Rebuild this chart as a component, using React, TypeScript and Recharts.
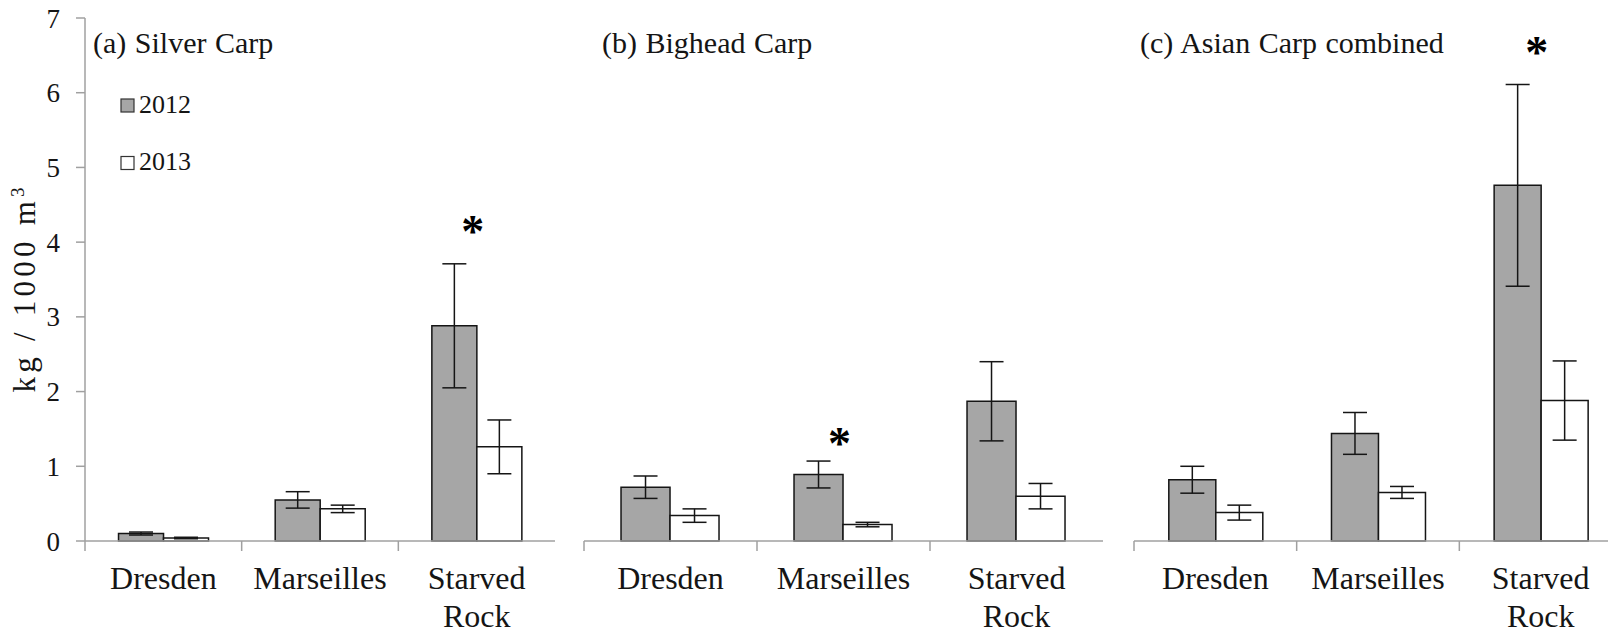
import React from 'react'
import { BarChart, Bar, XAxis, YAxis, ErrorBar, ReferenceDot, Legend } from 'recharts'

// ---- data (kg / 1000 m3) ----
const sites = ['Dresden', 'Marseilles', 'Starved Rock']
const years = ['2012', '2013']
const yTicks = [0, 1, 2, 3, 4, 5, 6, 7]

const silver2012 = [0.1, 0.55, 2.88]
const silver2012Err = [0.02, 0.11, 0.83]
const silver2013 = [0.04, 0.43, 1.26]
const silver2013Err = [0.01, 0.05, 0.36]
const silverStars = [{ site: 'Starved Rock', value: 4.22 }]

const bighead2012 = [0.72, 0.89, 1.87]
const bighead2012Err = [0.15, 0.18, 0.53]
const bighead2013 = [0.34, 0.22, 0.6]
const bighead2013Err = [0.09, 0.03, 0.17]
const bigheadStars = [{ site: 'Marseilles', value: 1.38 }]

const combined2012 = [0.82, 1.44, 4.76]
const combined2012Err = [0.18, 0.28, 1.35]
const combined2013 = [0.38, 0.65, 1.88]
const combined2013Err = [0.1, 0.08, 0.53]
const combinedStars = [{ site: 'Starved Rock', value: 6.61 }]

const FONT = 'Liberation Serif, Times New Roman, DejaVu Serif, serif'
const AXIS = '#a0a0a0'
const INK = '#151515'
const FILL_2012 = '#a6a6a6'
const FILL_2013 = '#ffffff'
const H = 633
const TOP = 18
const XAXIS_H = 92
const Y_W = 85

type Panel = {
  title: string
  titleX: number
  plotLeft: number
  plotWidth: number
  v2012: number[]
  e2012: number[]
  v2013: number[]
  e2013: number[]
  stars: { site: string; value: number }[]
  main?: boolean
}

const panels: Panel[] = [
  {
    title: '(a) Silver Carp', titleX: 93, plotLeft: 85, plotWidth: 470,
    v2012: silver2012, e2012: silver2012Err, v2013: silver2013, e2013: silver2013Err,
    stars: silverStars, main: true,
  },
  {
    title: '(b) Bighead Carp', titleX: 602, plotLeft: 583.5, plotWidth: 519,
    v2012: bighead2012, e2012: bighead2012Err, v2013: bighead2013, e2013: bighead2013Err,
    stars: bigheadStars,
  },
  {
    title: '(c) Asian Carp combined', titleX: 1140, plotLeft: 1133.5, plotWidth: 488,
    v2012: combined2012, e2012: combined2012Err, v2013: combined2013, e2013: combined2013Err,
    stars: combinedStars,
  },
]

// category label + boundary tick on the left edge of each band
const SiteTick = (props: any) => {
  const { x, y, payload, band } = props
  const words = String(payload.value).split(' ')
  const bx = x - band / 2
  return (
    <g>
      <line x1={bx} x2={bx} y1={y} y2={y + 10} stroke={AXIS} strokeWidth={1.5} />
      {words.map((w, i) => (
        <text key={w} x={x} y={y + 48 + i * 38} textAnchor="middle"
          style={{ fontFamily: FONT, fontSize: 32 }} fill={INK}>
          {w}
        </text>
      ))}
    </g>
  )
}

const Star = (props: any) => (
  <text x={props.cx - 4} y={props.cy + 21} textAnchor="middle"
    style={{ fontFamily: FONT, fontWeight: 'bold', fontSize: 46 }} fill="#000">*</text>
)

const YearLegend = (props: any) => {
  const items = props.payload || []
  return (
    <svg width={120} height={100} style={{ display: 'block', overflow: 'visible' }}>
      {items.map((it: any, i: number) => (
        <g key={it.value}>
          <rect x={1} y={4 + i * 57.5} width={13} height={13} fill={it.payload?.fill ?? it.color}
            stroke="#333" strokeWidth={1.2} />
          <text x={19} y={18 + i * 57} style={{ fontFamily: FONT, fontSize: 26 }} fill={INK}>{it.value}</text>
        </g>
      ))}
    </svg>
  )
}

const YTitle = () => (
  <text transform="rotate(-90, 35, 290)" x={35} y={290} textAnchor="middle"
    style={{ fontFamily: FONT, fontSize: 31 }} fill={INK} textLength={205} lengthAdjust="spacing">
    kg / 1000 m<tspan dy={-11} style={{ fontSize: 19 }}>3</tspan>
  </text>
)

const PanelChart = ({ p }: { p: Panel }) => {
  const data = sites.map((site, i) => ({
    site,
    y2012: p.v2012[i],
    e2012: p.e2012[i],
    y2013: p.v2013[i],
    e2013: p.e2013[i],
  }))
  const band = p.plotWidth / sites.length
  const width = Y_W + p.plotWidth + 10
  return (
    <div style={{ position: 'absolute', left: p.plotLeft - Y_W, top: 0, width, height: H }}>
      <BarChart
        width={width}
        height={H}
        data={data}
        margin={{ top: TOP, right: 10, bottom: 0, left: p.main ? 0 : Y_W }}
        barCategoryGap="21.4%"
        barGap={0}
      >
        <XAxis
          dataKey="site"
          height={XAXIS_H}
          interval={0}
          axisLine={{ stroke: AXIS, strokeWidth: 1.5 }}
          tickLine={false}
          tickSize={0}
          tickMargin={0}
          tick={(tp: any) => <SiteTick {...tp} band={band} />}
        />
        {p.main ? (
          <YAxis
            domain={[0, 7]}
            ticks={yTicks}
            interval={0}
            width={Y_W}
            axisLine={{ stroke: AXIS, strokeWidth: 1.5 }}
            tickLine={{ stroke: AXIS, strokeWidth: 1.5 }}
            tickSize={9}
            tickMargin={16}
            tick={{ fontSize: 27, fill: INK, style: { fontFamily: FONT } }}
            label={{ content: () => <YTitle /> }}
          />
        ) : (
          <YAxis hide domain={[0, 7]} />
        )}
        {p.main && (
          <Legend
            layout="vertical"
            align="center"
            verticalAlign="middle"
            content={<YearLegend />}
            wrapperStyle={{ position: 'absolute', left: 120, top: 95, width: 120, height: 100 }}
          />
        )}
        <Bar dataKey="y2012" name={years[0]} fill={FILL_2012} stroke={INK} strokeWidth={1.5}
          isAnimationActive={false}>
          <ErrorBar dataKey="e2012" width={12} stroke={INK} strokeWidth={1.5} />
        </Bar>
        <Bar dataKey="y2013" name={years[1]} fill={FILL_2013} stroke={INK} strokeWidth={1.5}
          isAnimationActive={false}>
          <ErrorBar dataKey="e2013" width={12} stroke={INK} strokeWidth={1.5} />
        </Bar>
        {p.stars.map((s) => (
          <ReferenceDot key={s.site} x={s.site} y={s.value} r={0} shape={Star} />
        ))}
      </BarChart>
    </div>
  )
}

export default function App() {
  return (
    <div style={{ position: 'absolute', left: 0, top: 0, width: 1608, height: H, overflow: 'hidden', background: '#fff', fontFamily: FONT }}>
      {panels.map((p) => (
        <PanelChart key={p.title} p={p} />
      ))}
      <svg width={1608} height={H} style={{ position: 'absolute', left: 0, top: 0, pointerEvents: 'none' }}>
        {panels.map((p) => (
          <text key={p.title} x={p.titleX} y={53} style={{ fontFamily: FONT, fontSize: 30, wordSpacing: 1 }} fill={INK}>
            {p.title}
          </text>
        ))}
      </svg>
    </div>
  )
}
